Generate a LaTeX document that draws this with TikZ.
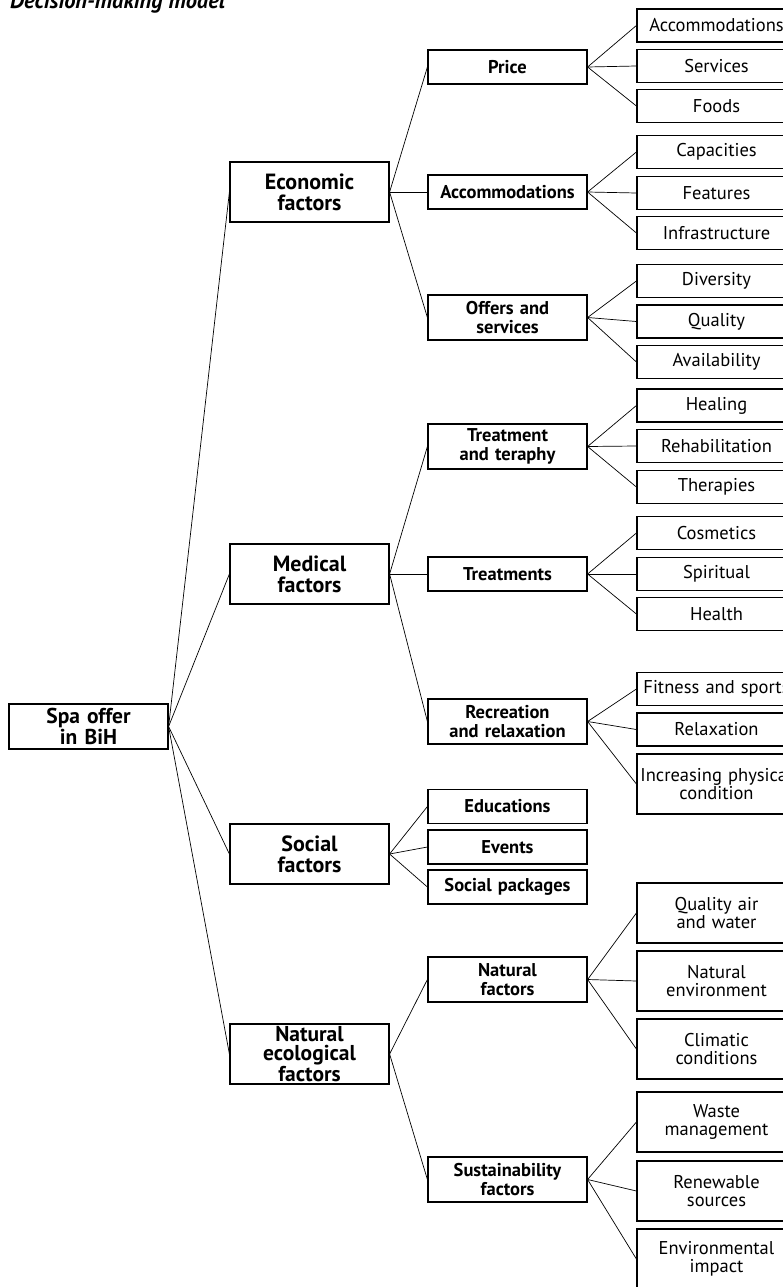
\documentclass[tikz,border=0pt]{standalone}
\usepackage{fontspec}
\setmainfont{PT Sans}
\begin{document}
\begin{tikzpicture}[x=1pt, y=-1pt,
  box/.style={draw, rectangle, line width=1.2pt, inner sep=2pt, text width=155pt, align=center},
  rootbox/.style={box, minimum height=45pt, font=\fontsize{21.5}{19}\selectfont\bfseries},
  factor/.style={box, minimum height=60pt, font=\fontsize{22}{21}\selectfont\bfseries},
  factorthree/.style={factor, font=\fontsize{21.5}{19}\selectfont\bfseries},
  sub/.style={box, minimum height=34pt, font=\fontsize{18.5}{19}\selectfont\bfseries},
  subtwo/.style={sub, minimum height=45pt},
  leaf/.style={box, minimum height=33pt, font=\fontsize{18.5}{18.5}\selectfont},
  leaftwo/.style={leaf, minimum height=60pt},
  link/.style={line width=0.7pt}]
\useasboundingbox (0,0) rectangle (782,1287);
\node[anchor=base west, inner sep=0pt, font=\fontsize{22.5}{22}\selectfont\bfseries\itshape] (title) at (10,9) {Decision-making model};
% root and main factors
\node[rootbox] (spa) at (88.5,726.5) {Spa offer\\in BiH};
\node[factor] (eco) at (309.5,192) {Economic\\factors};
\node[factor] (med) at (309.5,574) {Medical\\factors};
\node[factor] (soc) at (309.5,854) {Social\\factors};
\node[factorthree] (nat) at (309.5,1054) {Natural\\ecological\\factors};
% second level
\node[sub] (price) at (507.5,67) {Price};
\node[sub] (accom) at (507.5,192) {Accommodations};
\node[subtwo] (offers) at (507.5,317.5) {Offers and\\services};
\node[subtwo] (treat) at (507.5,446.5) {Treatment\\and teraphy};
\node[sub] (tments) at (507.5,574) {Treatments};
\node[subtwo] (recr) at (507.5,721.5) {Recreation\\and relaxation};
\node[sub] (edu) at (507.5,806.5) {Educations};
\node[sub] (events) at (507.5,847) {Events};
\node[sub] (packs) at (507.5,887) {Social packages};
\node[subtwo] (natf) at (507.5,979.5) {Natural\\factors};
\node[subtwo] (sust) at (507.5,1179.5) {Sustainability\\factors};
% third level
\node[leaf] (accl) at (716.5,25.5) {Accommodations};
\node[leaf] (serv) at (716.5,66) {Services};
\node[leaf] (foods) at (716.5,106) {Foods};
\node[leaf] (capac) at (716.5,152) {Capacities};
\node[leaf] (feat) at (716.5,193) {Features};
\node[leaf] (infra) at (716.5,233) {Infrastructure};
\node[leaf] (divers) at (716.5,281) {Diversity};
\node[leaf] (qual) at (716.5,321.5) {Quality};
\node[leaf] (avail) at (716.5,362) {Availability};
\node[leaf] (heal) at (716.5,405.5) {Healing};
\node[leaf] (rehab) at (716.5,446) {Rehabilitation};
\node[leaf] (thera) at (716.5,487) {Therapies};
\node[leaf] (cosm) at (716.5,533) {Cosmetics};
\node[leaf] (spirit) at (716.5,574) {Spiritual};
\node[leaf] (health) at (716.5,614) {Health};
\node[leaf] (fit) at (716.5,689) {Fitness and sports};
\node[leaf] (relax) at (716.5,729.5) {Relaxation};
\node[leaftwo] (incr) at (716.5,784) {\mbox{Increasing physical}\\condition};
\node[leaftwo] (air) at (716.5,913) {Quality air\\and water};
\node[leaftwo] (env) at (716.5,981) {Natural\\environment};
\node[leaftwo] (clim) at (716.5,1049) {Climatic\\conditions};
\node[leaftwo] (waste) at (716.5,1122) {Waste\\management};
\node[leaftwo] (renew) at (716.5,1191) {Renewable\\sources};
\node[leaftwo] (impact) at (716.5,1259) {Environmental\\impact};
% connectors
\foreach \c in {eco,med,soc,nat}
{
    \draw[link](spa.east)--(\c.west);
}
\foreach \p/\c in {eco/price,eco/accom,eco/offers,med/treat,med/tments,med/recr,soc/edu,soc/events,soc/packs,nat/natf,nat/sust}
{
    \draw[link](\p.east)--(\c.west);
}
\foreach \p/\c in {price/accl,price/serv,price/foods,accom/capac,accom/feat,accom/infra,offers/divers,offers/qual,offers/avail,treat/heal,treat/rehab,treat/thera,tments/cosm,tments/spirit,tments/health,recr/fit,recr/relax,recr/incr,natf/air,natf/env,natf/clim,sust/waste,sust/renew,sust/impact}
{
    \draw[link](\p.east)--(\c.west);
}
\end{tikzpicture}
\end{document}
